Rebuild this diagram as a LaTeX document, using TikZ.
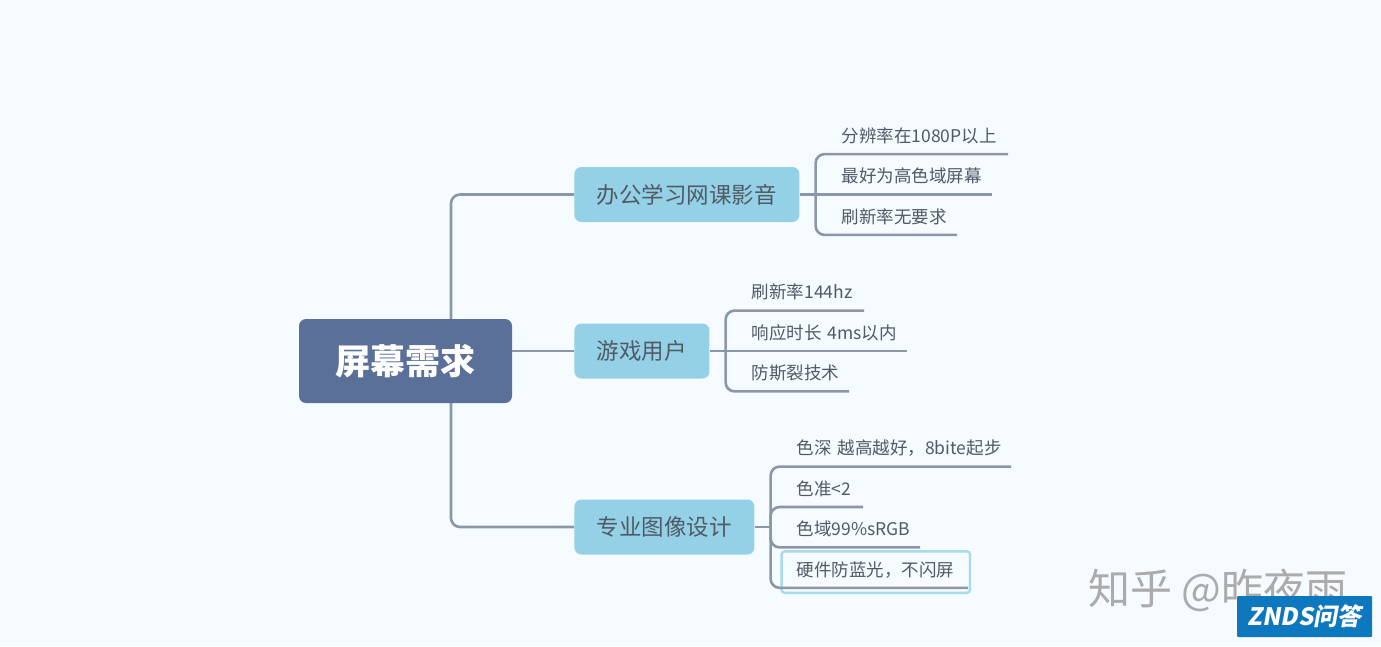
\documentclass[tikz,border=0pt]{standalone}
\usepackage{fontspec}
\setmainfont{Noto Sans CJK SC}
\newfontfamily\badgefont[FakeSlant=0.18]{Noto Sans CJK SC}
\usetikzlibrary{positioning}
\definecolor{pagebg}{HTML}{F6FBFF}
\definecolor{rootblue}{HTML}{5A7099}
\definecolor{branchblue}{HTML}{94D1E6}
\definecolor{linegray}{HTML}{8B97A6}
\definecolor{textgray}{HTML}{505A66}
\definecolor{selblue}{HTML}{A5DCE8}
\definecolor{markgray}{HTML}{ABABAB}
\definecolor{badgeblue}{HTML}{0E78BE}

\begin{document}
\begin{tikzpicture}[
        x=1pt, y=-1pt,
        every node/.style={align=center},
        root/.style={fill=rootblue, text=white, rounded corners=7pt, minimum width=213pt, minimum height=84pt, font=\bfseries\fontsize{35}{40}\selectfont},
        branch/.style={fill=branchblue, text=textgray, rounded corners=7pt, inner xsep=22.5pt, minimum height=55pt, font=\fontsize{22.5}{26}\selectfont},
        leaf/.style={text=textgray, inner xsep=0pt, inner ysep=0pt, minimum height=40pt, text height=18pt, text depth=1pt, align=left, font=\fontsize{17.5}{21}\selectfont},
        link/.style={draw=linegray, line width=2.6pt, rounded corners=9pt},
        selbox/.style={draw=selblue, line width=2.4pt, rounded corners=3pt}
    ]
    \fill[pagebg] (0,0) rectangle (1381,646);
    \useasboundingbox (0,0) rectangle (1381,646);

    % Nodes
    \node (root)[root] at (405.5,361) {屏幕需求};

    \node (office)[branch, right=62pt of root.east, yshift=166.5pt] {办公学习网课影音};
    \node (game)[branch, right=62pt of root.east, yshift=10pt] {游戏用户};
    \node (design)[branch, right=62pt of root.east, yshift=-166pt] {专业图像设计};

    \node (a2)[leaf, anchor=south west, xshift=42pt, text width=150pt] at (office.east) {最好为高色域屏幕};
    \node (a1)[leaf, above=0pt of a2.north west, anchor=south west, text width=166pt] {分辨率在1080P以上};
    \node (a3)[leaf, below=0pt of a2.south west, anchor=north west, text width=115pt] {刷新率无要求};

    \node (b2)[leaf, anchor=south west, xshift=42pt, text width=155pt] at (game.east) {响应时长 4ms以内};
    \node (b1)[leaf, above=0pt of b2.north west, anchor=south west, text width=112pt] {刷新率144hz};
    \node (b3)[leaf, below=0pt of b2.south west, anchor=north west, text width=97pt] {防斯裂技术};

    \node (c2)[leaf, anchor=south west, xshift=42pt, yshift=20pt, text width=66pt] at (design.east) {色准<2};
    \node (c1)[leaf, above=0pt of c2.north west, anchor=south west, text width=214pt] {色深 越高越好，8bite起步};
    \node (c3)[leaf, below=0pt of c2.south west, anchor=north west, text width=123pt] {色域99\%sRGB};
    \node (c4)[leaf, below=0pt of c3.south west, anchor=north west, text width=171pt] {硬件防蓝光，不闪屏};

    \node (mark)[text=markgray, font=\fontsize{42}{48}\selectfont] at (1218,590) {知乎 @昨夜雨};
    \node (badge)[fill=badgeblue, text=white, rounded corners=1pt, minimum width=135pt, minimum height=41pt, inner sep=0pt, font=\badgefont\bfseries\fontsize{24}{28}\selectfont] at (1304.5,616.5) {ZNDS问答};

    \draw[selbox] ([xshift=-15pt,yshift=-5pt]c4.south west) rectangle ([xshift=2pt,yshift=-4pt]c4.north east);

    % Edges
    \coordinate (officejoin) at ([xshift=16pt]office.east);
    \coordinate (gamejoin) at ([xshift=16pt]game.east);
    \coordinate (designjoin) at ([xshift=16pt]design.east);
    \coordinate (trunktop) at ([xshift=45.5pt]root.north);
    \coordinate (trunkbot) at ([xshift=45.5pt]root.south);

    \draw[link] (trunktop) |- (office.west);
    \draw[link] (root.east |- game.west) -- (game.west);
    \draw[link] (trunkbot) |- (design.west);

    \draw[link] (office.east) -- (a2.south east);
    \foreach \leafname in {a1,a3}
        \draw[link] (officejoin) |- (\leafname.south east);

    \draw[link] (game.east) -- (b2.south east);
    \foreach \leafname in {b1,b3}
        \draw[link] (gamejoin) |- (\leafname.south east);

    \draw[link] (design.east) -- (designjoin);
    \foreach \leafname in {c1,c2,c3,c4}
        \draw[link] (designjoin) |- (\leafname.south east);
\end{tikzpicture}
\end{document}
